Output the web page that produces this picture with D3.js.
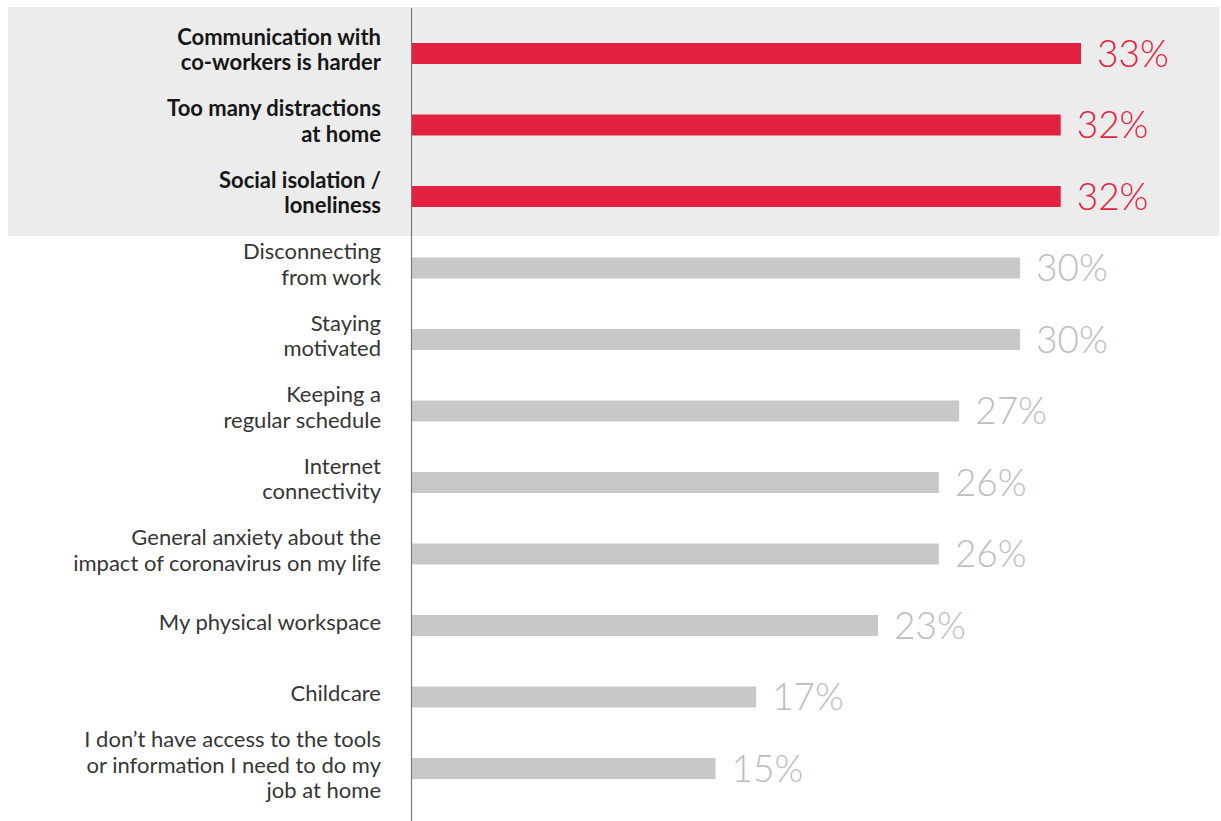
<!DOCTYPE html>
<html><head><meta charset="utf-8">
<script src="https://cdn.jsdelivr.net/npm/d3@7"></script>
<style>html,body{margin:0;padding:0;background:#fff;}svg{display:block;}</style>
</head><body>
<svg id="chart" width="1221" height="821"></svg>
<script>
const categories = [
  ["Communication with", "co-workers is harder"],
  ["Too many distractions", "at home"],
  ["Social isolation /", "loneliness"],
  ["Disconnecting", "from work"],
  ["Staying", "motivated"],
  ["Keeping a", "regular schedule"],
  ["Internet", "connectivity"],
  ["General anxiety about the", "impact of coronavirus on my life"],
  ["My physical workspace"],
  ["Childcare"],
  ["I don\u2019t have access to the tools", "or information I need to do my", "job at home"]
];
const values = [33, 32, 32, 30, 30, 27, 26, 26, 23, 17, 15];
const highlighted = [true, true, true, false, false, false, false, false, false, false, false];

const svg = d3.select("#chart");
const W = 1221, H = 821;
const x0 = 411;
const step = 71.5, barH = 21;
const pad = 1 - barH / step;

const x = d3.scaleLinear().domain([0, 33]).range([x0, 1081]);
const y = d3.scaleBand().domain(d3.range(values.length))
  .range([53.5 - step / 2, 53.5 - step / 2 + step * values.length])
  .paddingInner(pad).paddingOuter(pad / 2);

// highlight panel
svg.append("rect").attr("x", 8).attr("y", 7)
  .attr("width", W - 10).attr("height", 236 - 7)
  .attr("fill", "#ececec");

const font = "Lato, 'Noto Sans', sans-serif";

// bars
svg.selectAll("rect.bar").data(values).join("rect")
  .attr("class", "bar")
  .attr("x", x0)
  .attr("y", (d, i) => y(i))
  .attr("width", d => x(d) - x0)
  .attr("height", y.bandwidth())
  .attr("fill", (d, i) => highlighted[i] ? "#e1213f" : "#c8c8c8");

// value labels
svg.selectAll("text.val").data(values).join("text")
  .attr("class", "val")
  .attr("x", d => x(d) + 16)
  .attr("y", (d, i) => y(i) + y.bandwidth() / 2 + 13)
  .attr("font-family", font)
  .attr("font-weight", 300)
  .attr("font-size", 37)
  .attr("fill", (d, i) => highlighted[i] ? "#e1213f" : "#bdbdbd")
  .text(d => d + "%");

// category labels
const lineH = 25.5;
const lab = svg.selectAll("text.cat").data(categories).join("text")
  .attr("class", "cat")
  .attr("text-anchor", "end")
  .attr("font-family", font)
  .attr("font-size", 22)
  .attr("font-weight", (d, i) => highlighted[i] ? 700 : 400)
  .attr("fill", (d, i) => highlighted[i] ? "#161616" : "#363636");
lab.each(function(lines, i) {
  const cy = y(i) + y.bandwidth() / 2 - 3;
  const top = cy - (lines.length - 1) * lineH / 2;
  d3.select(this).selectAll("tspan").data(lines).join("tspan")
    .attr("x", 381)
    .attr("y", (l, j) => top + j * lineH + 7)
    .text(l => l);
});

// axis line
svg.append("line").attr("x1", x0 + 0.5).attr("x2", x0 + 0.5)
  .attr("y1", 8).attr("y2", H)
  .attr("stroke", "#7a7a7a").attr("stroke-width", 1.2);
</script>
</body></html>
